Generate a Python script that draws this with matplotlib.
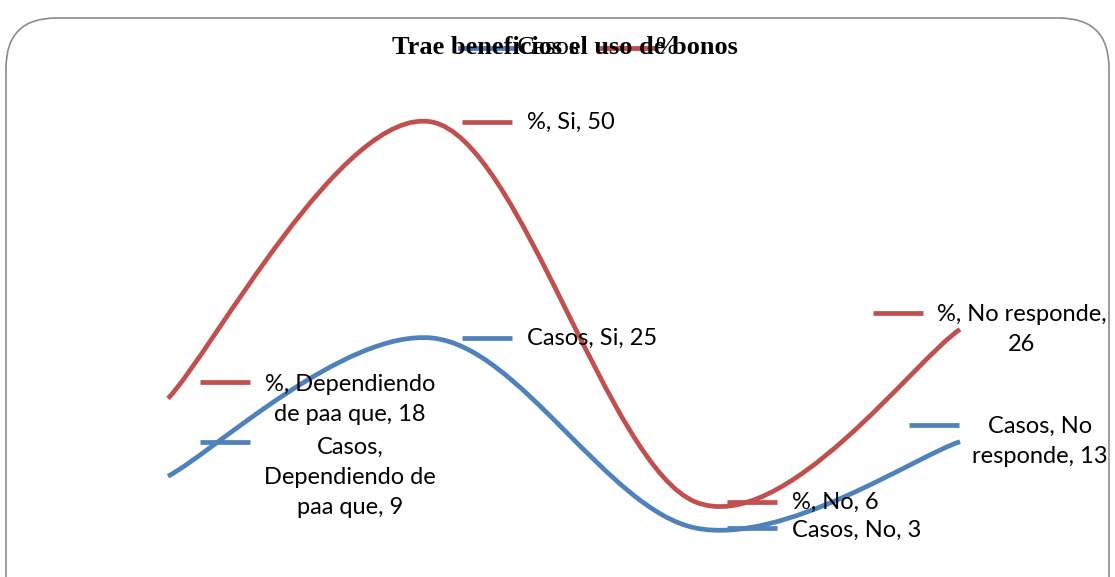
import numpy as np
import matplotlib
matplotlib.use("Agg")
import matplotlib.pyplot as plt
from matplotlib.patches import FancyBboxPatch
from matplotlib.path import Path
from matplotlib.patches import PathPatch
import matplotlib.transforms as mtransforms

categories = ["Dependiendo de paa que", "Si", "No", "No responde"]
casos = [9, 25, 3, 13]
pct = [18, 50, 6, 26]
series_names = ["Casos", "%"]
title = "Trae beneficios el uso de bonos"

BLUE = "#4F81BD"
RED = "#C0504D"
W, H = 1115, 577
fig = plt.figure(figsize=(W / 100, H / 100), dpi=100)

# rounded chart frame
frame = FancyBboxPatch((6 / W, -0.2), (W - 12) / W, (H - 18) / H + 0.2,
                       boxstyle="round,pad=0,rounding_size=0.045",
                       transform=fig.transFigure, fc="white", ec="#8c8c8c", lw=1.2,
                       mutation_aspect=W / H, zorder=-5)
fig.patches.append(frame)

ax = fig.add_axes([0, 0, 1, 1])
ax.set_xlim(-168 / 264, (W - 168) / 264)
ax.set_ylim((554 - H) / 8.64, 554 / 8.64)
ax.axis("off")
ax.patch.set_alpha(0)


def smooth_path(xs, ys):
    pts = np.column_stack([xs, ys]).astype(float)
    n = len(pts)
    verts = [pts[0]]
    codes = [Path.MOVETO]
    for i in range(n - 1):
        p0 = pts[i - 1] if i > 0 else pts[i]
        p1 = pts[i]
        p2 = pts[i + 1]
        p3 = pts[i + 2] if i + 2 < n else pts[i + 1]
        c1 = p1 + (p2 - p0) / 6
        c2 = p2 - (p3 - p1) / 6
        verts += [c1, c2, p2]
        codes += [Path.CURVE4] * 3
    return Path(verts, codes)


LW = 3.4
x = np.arange(len(categories))
for vals, col in [(pct, RED), (casos, BLUE)]:
    ax.add_patch(PathPatch(smooth_path(x, vals), fc="none", ec=col, lw=LW,
                           capstyle="butt"))

font = "Lato"
fs = 17
# label specs: (series values, color, index, key dx, key dy, text dx, text dy, ha, text)
labels = [
    (pct, RED, 0, 57, -16, 182, 1, "center", "%, Dependiendo\nde paa que, 18"),
    (casos, BLUE, 0, 57, -34, 182, 1, "center", "Casos,\nDependiendo de\npaa que, 9"),
    (pct, RED, 1, 55, 0, 95, 0, "left", "%, Si, 50"),
    (casos, BLUE, 1, 55, 0, 95, 0, "left", "Casos, Si, 25"),
    (pct, RED, 2, 56, 0, 96, 0, "left", "%, No, 6"),
    (casos, BLUE, 2, 56, 0, 96, 2, "left", "Casos, No, 3"),
    (pct, RED, 3, -62, -16, 62, 0, "center", "%, No responde,\n26"),
    (casos, BLUE, 3, -26, -17, 80, 0, "center", "Casos, No\nresponde, 13"),
]
for vals, col, i, kdx, kdy, tdx, tdy, ha, txt in labels:
    ktr = mtransforms.offset_copy(ax.transData, fig=fig, x=kdx / 100, y=-kdy / 100, units="inches")
    ax.plot([i - 25 / 264, i + 25 / 264], [vals[i], vals[i]], color=col, lw=LW,
            solid_capstyle="butt", transform=ktr)
    ttr = mtransforms.offset_copy(ax.transData, fig=fig, x=tdx / 100, y=-tdy / 100, units="inches")
    ax.text(i, vals[i], txt, transform=ttr, ha=ha, va="center", fontsize=fs,
            family=font, color="black", linespacing=1.55, multialignment="center")

# legend (overlapping title, as in reference)
fig.lines.append(plt.Line2D([460 / W, 515 / W], [1 - 48 / H] * 2, color=BLUE, lw=3.5,
                            transform=fig.transFigure))
fig.lines.append(plt.Line2D([602 / W, 653 / W], [1 - 48 / H] * 2, color=RED, lw=3.5,
                            transform=fig.transFigure))
fig.text(517 / W, 1 - 48 / H, series_names[0], ha="left", va="center", fontsize=19,
         family="Liberation Serif")
fig.text(655 / W, 1 - 48 / H, series_names[1], ha="left", va="center", fontsize=19,
         family="Liberation Serif")
fig.text(565 / W, 1 - 48 / H, title, ha="center", va="center", fontsize=19,
         family="Liberation Serif", weight="bold")

fig.savefig("out.png", dpi=100)
